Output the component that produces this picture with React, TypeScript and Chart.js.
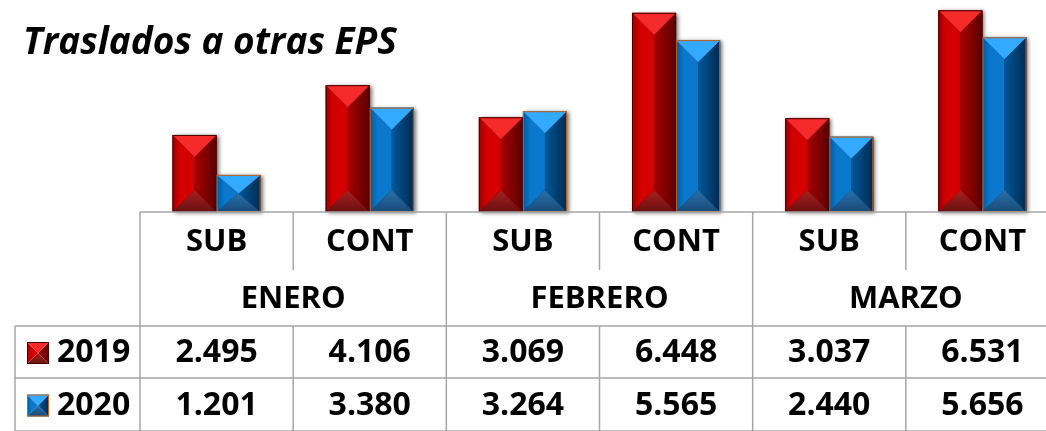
import React, { useEffect, useRef } from "react";
import { Chart, registerables } from "chart.js";
Chart.register(...registerables);

const TITLE = "Traslados a otras EPS";
const MONTHS = ["ENERO", "FEBRERO", "MARZO"];
const TYPES = ["SUB", "CONT", "SUB", "CONT", "SUB", "CONT"];
const SERIES_LABELS = ["2019", "2020"];
const VALUES_2019 = [2495, 4106, 3069, 6448, 3037, 6531];
const VALUES_2020 = [1201, 3380, 3264, 5565, 2440, 5656];

const FONT = "'Open Sans', 'Noto Sans', sans-serif";

const STYLES = [
  {
    left0: "#9a0000", left1: "#d40000", right0: "#a80000", right1: "#5a0000",
    top: "#f52a2a", bottom0: "#a82020", bottom1: "#6a1010", stroke: "#4a0000",
  },
  {
    left0: "#005a9e", left1: "#0a78cc", right0: "#00589a", right1: "#002a50",
    top: "#33aaff", bottom0: "#2a70a8", bottom1: "#184a78", stroke: "#c0601a",
  },
];

function fmt(v: number): string {
  const s = String(Math.round(v));
  return s.replace(/\B(?=(\d{3})+(?!\d))/g, ".");
}

function drawBevel(ctx: CanvasRenderingContext2D, L: number, T: number, R: number, B: number, st: any, shadow: boolean) {
  const w = R - L;
  const h = B - T;
  const cx = (L + R) / 2;
  const b = Math.min(w / 2, h / 2);
  ctx.save();
  if (shadow) {
    ctx.shadowColor = "rgba(0,0,0,0.55)";
    ctx.shadowBlur = 4;
    ctx.shadowOffsetX = 2;
    ctx.shadowOffsetY = 1;
    ctx.fillStyle = st.right1;
    ctx.fillRect(L, T, w, h);
    ctx.shadowColor = "transparent";
  }
  let g = ctx.createLinearGradient(L, 0, cx, 0);
  g.addColorStop(0, st.left0);
  g.addColorStop(0.35, st.left1);
  g.addColorStop(1, st.left1);
  ctx.fillStyle = g;
  ctx.beginPath();
  ctx.moveTo(L, T); ctx.lineTo(cx, T + b); ctx.lineTo(cx, B - b); ctx.lineTo(L, B); ctx.closePath();
  ctx.fill();
  g = ctx.createLinearGradient(cx, 0, R, 0);
  g.addColorStop(0, st.right0);
  g.addColorStop(1, st.right1);
  ctx.fillStyle = g;
  ctx.beginPath();
  ctx.moveTo(R, T); ctx.lineTo(cx, T + b); ctx.lineTo(cx, B - b); ctx.lineTo(R, B); ctx.closePath();
  ctx.fill();
  ctx.fillStyle = st.top;
  ctx.beginPath();
  ctx.moveTo(L, T); ctx.lineTo(R, T); ctx.lineTo(cx, T + b); ctx.closePath();
  ctx.fill();
  g = ctx.createLinearGradient(0, B - b, 0, B);
  g.addColorStop(0, st.bottom0);
  g.addColorStop(1, st.bottom1);
  ctx.fillStyle = g;
  ctx.beginPath();
  ctx.moveTo(L, B); ctx.lineTo(R, B); ctx.lineTo(cx, B - b); ctx.closePath();
  ctx.fill();
  ctx.strokeStyle = st.stroke;
  ctx.lineWidth = 1;
  ctx.strokeRect(L + 0.5, T + 0.5, w - 1, h - 1);
  ctx.restore();
}

const bevelPlugin = {
  id: "bevelBars",
  afterDatasetsDraw(chart: any) {
    const ctx = chart.ctx as CanvasRenderingContext2D;
    chart.data.datasets.forEach((_ds: any, di: number) => {
      const meta = chart.getDatasetMeta(di);
      meta.data.forEach((bar: any) => {
        const p = bar.getProps(["x", "y", "base", "width"], true);
        drawBevel(ctx, p.x - p.width / 2, p.y, p.x + p.width / 2, p.base, STYLES[di], true);
      });
    });
  },
};

const tablePlugin = {
  id: "dataTable",
  afterDraw(chart: any) {
    const ctx = chart.ctx as CanvasRenderingContext2D;
    const xs = chart.scales.x;
    const area = chart.chartArea;
    const n = TYPES.length;
    const colW = xs.getPixelForValue(1) - xs.getPixelForValue(0);
    const x0 = xs.getPixelForValue(0) - colW / 2;
    const edge = (k: number) => x0 + k * colW;
    const y0 = area.bottom;
    const r1 = y0 + 58;
    const r2 = r1 + 56;
    const r3 = r2 + 52;
    const r4 = r3 + 53;
    const legendLeft = 15;

    ctx.save();
    ctx.strokeStyle = "#a6a6a6";
    ctx.lineWidth = 1.5;
    const line = (ax: number, ay: number, bx: number, by: number) => {
      ctx.beginPath(); ctx.moveTo(ax, ay); ctx.lineTo(bx, by); ctx.stroke();
    };
    line(x0, y0, edge(n), y0);
    line(legendLeft, r2, edge(n), r2);
    line(legendLeft, r3, edge(n), r3);
    line(legendLeft, r4, edge(n), r4);
    for (let k = 0; k <= n; k++) line(edge(k), y0, edge(k), r1);
    for (let k = 0; k <= n; k += 2) line(edge(k), r1, edge(k), r2);
    for (let k = 0; k <= n; k++) line(edge(k), r2, edge(k), r4);
    line(legendLeft, r2, legendLeft, r4);

    ctx.fillStyle = "#000";
    ctx.textAlign = "center";
    ctx.textBaseline = "middle";
    ctx.font = `bold 31px ${FONT}`;
    TYPES.forEach((t, i) => ctx.fillText(t, xs.getPixelForValue(i), (y0 + r1) / 2 + 1));
    MONTHS.forEach((m, i) => ctx.fillText(m, edge(2 * i + 1), (r1 + r2) / 2 + 1));
    const rowsY = [(r2 + r3) / 2 + 1, (r3 + r4) / 2 + 1];
    ctx.font = `bold 32px ${FONT}`;
    chart.data.datasets.forEach((ds: any, di: number) => {
      ds.data.forEach((v: number, i: number) => ctx.fillText(fmt(v), xs.getPixelForValue(i), rowsY[di]));
      ctx.textAlign = "left";
      ctx.fillText(ds.label, 57, rowsY[di]);
      ctx.textAlign = "center";
      drawBevel(ctx, 27, rowsY[di] - 11, 49, rowsY[di] + 11, STYLES[di], false);
    });

    ctx.textAlign = "left";
    ctx.textBaseline = "alphabetic";
    ctx.font = `italic bold 37px ${FONT}`;
    ctx.fillText(TITLE, 23, 54);
    ctx.restore();
  },
};

export default function App() {
  const ref = useRef<HTMLCanvasElement | null>(null);
  useEffect(() => {
    if (!ref.current) return;
    const chart = new Chart(ref.current, {
      type: "bar",
      data: {
        labels: TYPES,
        datasets: [
          { label: SERIES_LABELS[0], data: VALUES_2019, backgroundColor: "rgba(0,0,0,0)", borderWidth: 0 },
          { label: SERIES_LABELS[1], data: VALUES_2020, backgroundColor: "rgba(0,0,0,0)", borderWidth: 0 },
        ],
      },
      options: {
        responsive: false,
        animation: false,
        layout: { padding: { left: 140, right: 1, top: 2, bottom: 219 } },
        datasets: { bar: { categoryPercentage: 0.575, barPercentage: 1 } },
        scales: {
          x: { display: false, grid: { display: false } },
          y: { display: false, min: 0, max: 6800 },
        },
        plugins: { legend: { display: false }, tooltip: { enabled: false }, title: { display: false } },
      },
      plugins: [bevelPlugin, tablePlugin],
    });
    return () => chart.destroy();
  }, []);
  return (
    <div style={{ position: "fixed", left: 0, top: 0, width: 1046, height: 431, overflow: "hidden", background: "#fff" }}>
      <canvas ref={ref} width={1060} height={431} style={{ display: "block", width: 1060, height: 431 }} />
    </div>
  );
}
